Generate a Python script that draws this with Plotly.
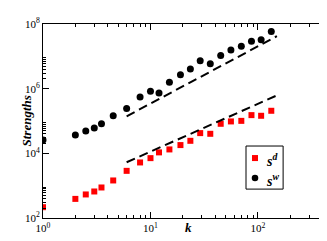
import plotly.graph_objects as go

# data
k_vals = [1, 2, 2.5, 3, 3.5, 4.5, 6, 8, 10, 12, 15, 19, 23.5, 29, 36, 45, 56, 70, 87, 107, 133]
s_w = [2.6e4, 3.66e4, 4.87e4, 6.03e4, 8.2e4, 1.45e5, 2.45e5, 5.5e5, 8.25e5, 7.3e5, 1.57e6,
       2.69e6, 4.04e6, 7.3e6, 5.9e6, 1.07e7, 1.57e7, 2.04e7, 2.91e7, 3.27e7, 5.9e7]
s_d = [216, 390, 535, 661, 879, 1449, 2872, 5224, 7100, 1.07e4, 1.32e4, 1.80e4, 2.44e4,
       4.22e4, 4.02e4, 8.2e4, 9.7e4, 1.01e5, 1.52e5, 1.45e5, 2.07e5]

fit_k = [6, 150]
fit_w = [1.4e5, 4.2e7]
fit_d = [5.3e3, 6.2e5]

x_major = [1, 10, 100]
x_major_text = ["10<sup>0</sup>", "10<sup>1</sup>", "10<sup>2</sup>"]
y_major = [1e2, 1e4, 1e6, 1e8]
y_major_text = ["10<sup>2</sup>", "10<sup>4</sup>", "10<sup>6</sup>", "10<sup>8</sup>"]

legend_labels = ["s<sup>d</sup>", "s<sup>w</sup>"]

x_minor = [m * 10 ** e for e in (0, 1, 2) for m in range(2, 10) if m * 10 ** e < 500]
y_minor = [m * 10 ** e for e in (2, 4, 6) for m in range(2, 10)]

serif = "Liberation Serif"

fig = go.Figure()
fig.add_trace(go.Scatter(x=k_vals, y=s_d, mode="markers", name=legend_labels[0],
                         marker=dict(symbol="square", size=6, color="#ff0000")))
fig.add_trace(go.Scatter(x=k_vals, y=s_w, mode="markers", name=legend_labels[1],
                         marker=dict(symbol="circle", size=7, color="black")))
fig.add_trace(go.Scatter(x=fit_k, y=fit_w, mode="lines", showlegend=False,
                         line=dict(color="black", width=2, dash="9px,5px")))
fig.add_trace(go.Scatter(x=fit_k, y=fit_d, mode="lines", showlegend=False,
                         line=dict(color="black", width=2, dash="9px,5px")))

axis_common = dict(showgrid=False, zeroline=False, showline=True, linecolor="black",
                   linewidth=1, mirror="allticks", ticks="inside", ticklen=6,
                   tickcolor="black", tickwidth=1,
                   tickfont=dict(family=serif, size=11, color="black"))

fig.update_xaxes(type="log", range=[0, 2.698], tickmode="array", tickvals=x_major,
                 ticktext=x_major_text,
                 minor=dict(tickmode="array", tickvals=x_minor, ticks="inside",
                            ticklen=3, tickcolor="black"),
                 **axis_common)
fig.update_yaxes(type="log", range=[2, 8], tickmode="array", tickvals=y_major,
                 ticktext=y_major_text,
                 minor=dict(tickmode="array", tickvals=y_minor, ticks="inside",
                            ticklen=3, tickcolor="black"),
                 **axis_common)

fig.add_annotation(text="<b><i>Strengths</i></b>", xref="paper", yref="paper",
                   x=0, y=0.5, xshift=-27, textangle=-90, showarrow=False,
                   font=dict(family=serif, size=13, color="black"))
fig.add_annotation(text="<b><i>k</i></b>", xref="paper", yref="paper",
                   x=0.5, y=0, yshift=-19, showarrow=False,
                   font=dict(family=serif, size=13, color="black"))

# hand-drawn legend box (paper coordinates)
fig.add_shape(type="rect", xref="paper", yref="paper", x0=0.700, x1=0.828,
              y0=0.149, y1=0.371, line=dict(color="black", width=1), fillcolor="white",
              layer="above")
fig.add_shape(type="rect", xref="paper", yref="paper", x0=0.7207, x1=0.7414,
              y0=0.2935, y1=0.3245, line=dict(width=0), fillcolor="#ff0000", layer="above")
fig.add_shape(type="circle", xref="paper", yref="paper", x0=0.7197, x1=0.7424,
              y0=0.1890, y1=0.2230, line=dict(width=0), fillcolor="black", layer="above")
for lab, yp in zip(legend_labels, [0.300, 0.197]):
    fig.add_annotation(text="<b><i>" + lab + "</i></b>", xref="paper", yref="paper",
                       x=0.762, y=yp, xanchor="left", yanchor="middle", showarrow=False,
                       font=dict(family=serif, size=14, color="black"))

fig.update_layout(
    width=327, height=241,
    margin=dict(l=35, r=2, t=16, b=31),
    paper_bgcolor="white", plot_bgcolor="white",
    showlegend=False,
)

fig.write_html("out.html")
